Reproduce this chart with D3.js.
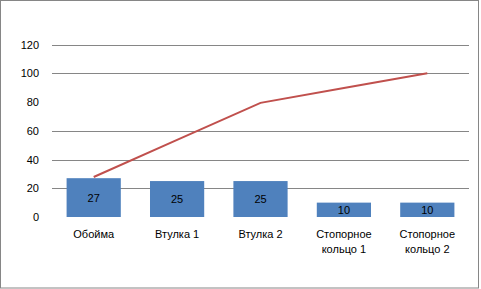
<!DOCTYPE html>
<html><head><meta charset="utf-8">
<script src="https://cdn.jsdelivr.net/npm/d3@7"></script>
<style>body{margin:0;background:#fff}svg{display:block}</style>
</head><body>
<svg id="c" width="481" height="289"></svg>
<script>
const categories = ["Обойма", "Втулка 1", "Втулка 2", "Стопорное кольцо 1", "Стопорное кольцо 2"];
const labelLines = [["Обойма"], ["Втулка 1"], ["Втулка 2"], ["Стопорное", "кольцо 1"], ["Стопорное", "кольцо 2"]];
const barValues = [27, 25, 25, 10, 10];
const cumulativeValues = [27.8, 53.6, 79.4, 89.7, 100];
const yTicks = [0, 20, 40, 60, 80, 100, 120];
const gridTicks = [20, 40, 60, 100, 120];

const svg = d3.select("#c");
const font = "'Liberation Sans', Arial, sans-serif";
svg.append("rect").attr("x",0.5).attr("y",0.5).attr("width",478).attr("height",287.5)
  .attr("fill","#fff").attr("stroke","#868686");

const x = d3.scaleBand().domain(categories).range([52, 469]).paddingInner(0.35).paddingOuter(0.175);
const y = d3.scaleLinear().domain([0, 120]).range([217, 44.5]);

svg.append("g").selectAll("line").data(gridTicks).join("line")
  .attr("x1",52).attr("x2",469)
  .attr("y1",d=>Math.round(y(d))+0.5).attr("y2",d=>Math.round(y(d))+0.5)
  .attr("stroke","#868686").attr("stroke-width",1);

const yAxis = d3.axisLeft(y).tickValues(yTicks).tickSize(0).tickPadding(0);
const ga = svg.append("g").attr("transform","translate(39,0)").call(yAxis);
ga.select(".domain").remove();
ga.selectAll("text").attr("font-family",font).attr("font-size",11).attr("fill","#000");

svg.append("g").selectAll("rect").data(barValues).join("rect")
  .attr("x",(d,i)=>x(categories[i])).attr("width",x.bandwidth())
  .attr("y",d=>y(d)).attr("height",d=>y(0)-y(d)).attr("fill","#4F81BD");

svg.append("g").selectAll("text").data(barValues).join("text")
  .attr("x",(d,i)=>x(categories[i])+x.bandwidth()/2)
  .attr("y",d=>(y(d)+y(0))/2).attr("dy","0.36em")
  .attr("text-anchor","middle").attr("font-family",font).attr("font-size",11).attr("fill","#000")
  .text(d=>d);

const line = d3.line().x((d,i)=>x(categories[i])+x.bandwidth()/2).y(d=>y(d));
svg.append("path").datum(cumulativeValues).attr("d",line)
  .attr("fill","none").attr("stroke","#C0504D").attr("stroke-width",2);

const cl = svg.append("g");
labelLines.forEach((lines,i)=>{
  const t = cl.append("text").attr("text-anchor","middle").attr("font-family",font)
    .attr("font-size",11).attr("fill","#000");
  lines.forEach((s,j)=>{
    t.append("tspan").attr("x",x(categories[i])+x.bandwidth()/2).attr("y",238+j*15).text(s);
  });
});
</script>
</body></html>
